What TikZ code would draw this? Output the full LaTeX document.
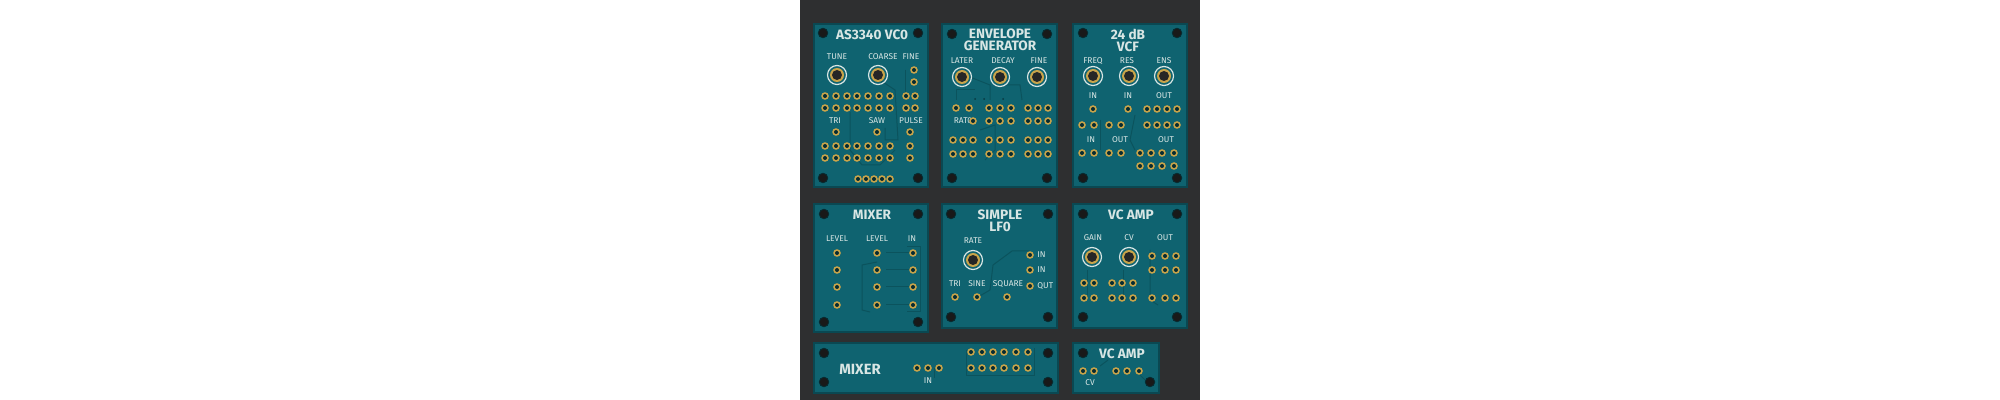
\documentclass[tikz,border=0pt]{standalone}
\usepackage{fontspec}
\setmainfont{Fira Sans}
\begin{document}
\definecolor{bgd}{HTML}{2E2F30}
\definecolor{pcb}{HTML}{0F6370}
\definecolor{pcbe}{HTML}{0A4852}
\definecolor{trace}{HTML}{0B535D}
\definecolor{gold}{HTML}{C9A44A}
\definecolor{silk}{HTML}{D8E6E4}
\begin{tikzpicture}[x=0.5pt,y=-0.5pt,
  board/.style={fill=pcb,draw=pcbe,line width=0.6pt},
  ttl/.style={text=silk,font=\fontsize{6.8}{7}\selectfont\bfseries,align=center,inner sep=0},
  lbl/.style={text=silk,font=\fontsize{4.2}{4.5}\selectfont,inner sep=0},
  trc/.style={draw=trace,line width=0.5pt}]
\newcommand\pd[2]{\fill[gold] (#1,#2) circle (3.8); \fill[pcbe!60!black] (#1,#2) circle (2);}
\newcommand\jk[2]{\draw[silk,line width=0.6pt] (#1,#2) circle (9.5); \fill[gold] (#1,#2) circle (7); \fill[black!85] (#1,#2) circle (5);}
\newcommand\mh[2]{\fill[black!90] (#1,#2) circle (4.8); \draw[pcbe!60!black,line width=0.4pt] (#1,#2) circle (4.8);}
\useasboundingbox (0,0) rectangle (2000,400);
\fill[white] (0,0) rectangle (2000,400);
\fill[bgd] (800,0) rectangle (1200,400);
% boards
\draw[board] (814,24) rectangle (928,187);
\draw[board] (942,24) rectangle (1057,187);
\draw[board] (1073,24) rectangle (1187,187);
\draw[board] (814,204) rectangle (928,332);
\draw[board] (942,204) rectangle (1057,328);
\draw[board] (1073,204) rectangle (1187,328);
\draw[board] (814,343) rectangle (1058,393);
\draw[board] (1073,343) rectangle (1159,393);
% traces
\draw[trc] (850,112)--(850,150)--(862,165)--(880,165)--(895,150);
\draw[trc] (880,80)--(895,90)--(898,140)--(885,140)--(885,128);
\draw[trc] (905,70)--(905,100);
\draw[trc] (970,77)--(990,85)--(990,100);
\draw[trc] (1005,85)--(1020,85)--(1022,100);
\draw[trc] (956,100)--(956,90)--(975,90);
\draw[trc] (980,130)--(995,125)--(995,150)--(985,160);
\draw[trc] (1100,120)--(1100,150);
\draw[trc] (1135,115)--(1130,140)--(1135,150);
\draw[trc] (886,253)--(913,253); \draw[trc] (886,270)--(913,270);\draw[trc] (886,287)--(913,287);\draw[trc] (886,305)--(913,305);
\draw[trc] (877,262)--(862,265)--(862,310)--(870,312);
\draw[trc] (907,247)--(920,247)--(920,312)--(907,312);
\draw[trc] (1030,251)--(1012,251)--(993,265)--(990,290)--(978,297);
\draw[trc] (1087,270)--(1087,295); \draw[trc] (1123,270)--(1123,295);
\draw[trc] (1150,250)--(1150,300)--(1158,305);
\draw[trc] (966,350)--(966,375)--(1034,375)--(1034,348);
\draw[trc] (934,368)--(934,378);
\draw[trc] (1100,366)--(1108,360); \draw[trc] (1140,375)--(1147,382);
% mounting holes
\foreach \a/\b in {823/33,918/33,823/178,918/178,952/34,1047/34,952/178,1047/178,1083/33,1177/33,1083/178,1177/178,824/214,918/214,824/322,918/322,951/214,1048/214,951/317,1048/317,1083/214,1177/214,1083/317,1177/317,824/353,1048/353,824/382,1048/382,1083/353,1150/382}{\mh{\a}{\b}}
% board 1
\node[ttl] (t1) at (872,35) {AS3340 VC0};
\node[lbl] (l1a) at (837,57) {TUNE};
\node[lbl] (l1b) at (883,57) {COARSE};
\node[lbl] (l1c) at (911,57) {FINE};
\jk{837}{75}\jk{878}{75}\pd{914}{70}\pd{914}{82}
\foreach \y in {96,108,146,158}{\foreach \x in {825,836,847,857,868,879,890}{\pd{\x}{\y}}}
\foreach \y in {96,108}{\pd{906}{\y}\pd{915}{\y}}
\pd{910}{146}\pd{910}{158}
\node[lbl] (l1d) at (835,121) {TRI};
\node[lbl] (l1e) at (877,121) {SAW};
\node[lbl] (l1f) at (911,121) {PULSE};
\pd{836}{132}\pd{877}{132}\pd{910}{132}
\foreach \x in {858,866,874,882,890}{\pd{\x}{179}}
% board 2
\node[ttl] (t2) at (1000,40) {ENVELOPE\\[-1pt]GENERATOR};
\node[lbl] (l2a) at (962,61) {LATER};
\node[lbl] (l2b) at (1003,61) {DECAY};
\node[lbl] (l2c) at (1039,61) {FINE};
\jk{962}{77}\jk{1000}{77}\jk{1037}{77}
\foreach \x in {975,984,1003}{\fill[trace!70!black] (\x,99) circle (1);}
\pd{956}{108}\pd{969}{108}
\foreach \y in {108,121,140,154}{\foreach \x in {989,1000,1011,1028,1038,1048}{\pd{\x}{\y}}}
\node[lbl] (l2d) at (963,121) {RAT0};
\pd{973}{121}
\foreach \y in {140,154}{\foreach \x in {953,963,973}{\pd{\x}{\y}}}
% board 3
\node[ttl] (t3) at (1128,40) {24 dB\\[-1pt]VCF};
\node[lbl] (l3a) at (1093,61) {FREQ};
\node[lbl] (l3b) at (1127,61) {RES};
\node[lbl] (l3c) at (1164,61) {ENS};
\jk{1093}{76}\jk{1129}{76}\jk{1164}{76}
\node[lbl] (l3d) at (1093,96) {IN};
\node[lbl] (l3e) at (1128,96) {IN};
\node[lbl] (l3f) at (1164,96) {OUT};
\pd{1093}{109}\pd{1128}{109}
\foreach \y in {109,125}{\foreach \x in {1147,1157,1167,1177}{\pd{\x}{\y}}}
\foreach \y in {125,153}{\foreach \x in {1082,1094,1109,1121}{\pd{\x}{\y}}}
\node[lbl] (l3g) at (1091,140) {IN};
\node[lbl] (l3h) at (1120,140) {OUT};
\node[lbl] (l3i) at (1166,140) {OUT};
\foreach \y in {153,166}{\foreach \x in {1140,1151,1162,1174}{\pd{\x}{\y}}}
% board 4
\node[ttl] (t4) at (872,215) {MIXER};
\node[lbl] (l4a) at (837,239) {LEVEL};
\node[lbl] (l4b) at (877,239) {LEVEL};
\node[lbl] (l4c) at (912,239) {IN};
\foreach \y in {253,270,287,305}{\foreach \x in {837,877,913}{\pd{\x}{\y}}}
% board 5
\node[ttl] (t5) at (1000,221) {SIMPLE\\[-1pt]LF0};
\node[lbl] (l5a) at (973,241) {RATE};
\jk{973}{260}
\pd{1030}{255}\pd{1030}{270}\pd{1030}{286}
\node[lbl,anchor=west] (l5b) at (1037,255) {IN};
\node[lbl,anchor=west] (l5c) at (1037,270) {IN};
\node[lbl,anchor=west] (l5d) at (1037,286) {QUT};
\node[lbl] (l5e) at (955,284) {TRI};
\node[lbl] (l5f) at (977,284) {SINE};
\node[lbl] (l5g) at (1008,284) {SQUARE};
\pd{955}{297}\pd{977}{297}\pd{1007}{297}
% board 6
\node[ttl] (t6) at (1131,215) {VC AMP};
\node[lbl] (l6a) at (1093,238) {GAIN};
\node[lbl] (l6b) at (1129,238) {CV};
\node[lbl] (l6c) at (1165,238) {OUT};
\jk{1092}{257}\jk{1129}{257}
\foreach \y in {256,270,298}{\foreach \x in {1152,1165,1176}{\pd{\x}{\y}}}
\foreach \y in {283,298}{\foreach \x in {1084,1094,1112,1122,1133}{\pd{\x}{\y}}}
% board 7
\node[ttl,font=\fontsize{7.4}{8}\selectfont\bfseries] (t7) at (860,369) {MIXER};
\pd{917}{368}\pd{928}{368}\pd{939}{368}
\node[lbl] (l7a) at (928,381) {IN};
\foreach \y in {352,368}{\foreach \x in {971,982,993,1004,1016,1028}{\pd{\x}{\y}}}
% board 8
\node[ttl] (t8) at (1122,354) {VC AMP};
\foreach \x in {1083,1094,1116,1127,1139}{\pd{\x}{371}}
\node[lbl] (l8a) at (1090,383) {CV};
\end{tikzpicture}
\end{document}
